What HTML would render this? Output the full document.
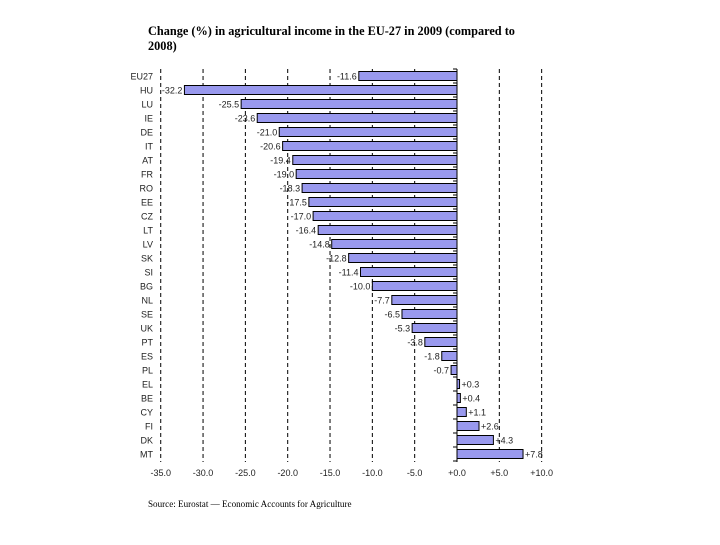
<!DOCTYPE html>
<html><head><meta charset="utf-8"><style>
body{margin:0;background:#fff;width:720px;height:540px;overflow:hidden}
</style></head><body>
<svg width="720" height="540" font-family="Liberation Sans, sans-serif">
<text x="148" y="35" font-family="Liberation Serif, serif" font-weight="bold" font-size="12.3">Change (%) in agricultural income in the EU-27 in 2009 (compared to</text>
<text x="148" y="50" font-family="Liberation Serif, serif" font-weight="bold" font-size="12.3">2008)</text>
<text x="148" y="507" font-family="Liberation Serif, serif" font-size="9.1">Source: Eurostat — Economic Accounts for Agriculture</text>
<g id="grid"></g><g id="bars"></g><g id="axis"></g>
</svg>
<script>
const categories=["EU27","HU","LU","IE","DE","IT","AT","FR","RO","EE","CZ","LT","LV","SK","SI","BG","NL","SE","UK","PT","ES","PL","EL","BE","CY","FI","DK","MT"];
const values=[-11.6,-32.2,-25.5,-23.6,-21.0,-20.6,-19.4,-19.0,-18.3,-17.5,-17.0,-16.4,-14.8,-12.8,-11.4,-10.0,-7.7,-6.5,-5.3,-3.8,-1.8,-0.7,0.3,0.4,1.1,2.6,4.3,7.8];
const ticks=[-35,-30,-25,-20,-15,-10,-5,0,5,10];
const NS="http://www.w3.org/2000/svg";
const x=v=>457+v*8.465;
const y=i=>76+i*14;
function mk(t,a,p){const e=document.createElementNS(NS,t);for(const k in a)e.setAttribute(k,a[k]);p.appendChild(e);return e;}
const grid=document.getElementById('grid'),bars=document.getElementById('bars'),axis=document.getElementById('axis');
ticks.forEach(t=>{
  if(t!==0){const l=mk('line',{x1:x(t),x2:x(t),y1:69,y2:462,stroke:'#000','stroke-width':1,'stroke-dasharray':'4,3'},grid);
  
  }
  const tx=mk('text',{x:x(t),y:476,'font-size':9,'text-anchor':'middle',fill:'#222'},axis);
  tx.textContent=(t>=0?'+':'')+t.toFixed(1);
  
  
});
const ax=mk('line',{x1:x(0),x2:x(0),y1:69,y2:462,stroke:'#000','stroke-width':1},axis);


for(let i=0;i<=categories.length;i++){mk('line',{x1:x(0)-4,x2:x(0),y1:y(i)-7,y2:y(i)-7,stroke:'#000'},axis);}
categories.forEach((c,i)=>{
  const v=values[i];
  const r=mk('rect',{x:Math.min(x(0),x(v)),y:y(i)-4.5,width:Math.max(1,Math.abs(x(v)-x(0))),height:9,fill:'#9999ee',stroke:'#000','stroke-width':1},bars);
  
  
  const lb=mk('text',{x:153,y:y(i)+3.5,'font-size':9,'text-anchor':'end',fill:'#222'},axis);
  lb.textContent=c;
  
  
  const vl=mk('text',{x:v<0?x(v)-2:x(v)+2,y:y(i)+3.5,'font-size':9,'text-anchor':v<0?'end':'start',fill:'#222'},axis);
  vl.textContent=(v>0?'+':'')+v.toFixed(1);
  
  
});
</script>
</body></html>
